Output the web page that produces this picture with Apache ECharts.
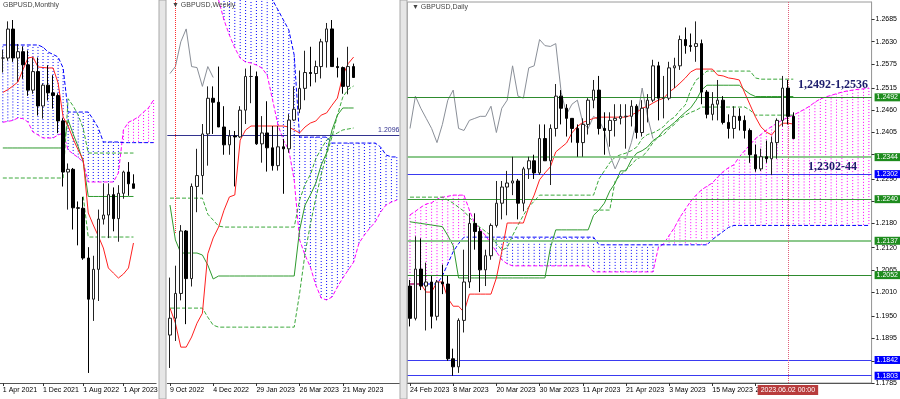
<!DOCTYPE html>
<html><head><meta charset="utf-8">
<script src="https://cdn.jsdelivr.net/npm/echarts/dist/echarts.min.js"></script>
<style>html,body{margin:0;padding:0;background:#fff}#c{width:900px;height:399px}</style>
</head><body><div id="c"></div>
<script>
// ---------------- MONTHLY (Apr 2021 ...) ----------------
const mTickCats = ['2021.04','2021.12','2022.08','2023.04'];
const mTickText = ['1 Apr 2021','1 Dec 2021','1 Aug 2022','1 Apr 2023'];
const mOpen  = [1.3830,1.3830,1.4150,1.3830,1.3900,1.3755,1.3475,1.3680,1.3300,1.3530,1.3445,1.3415,1.3135,1.2570,1.2600,1.2175,1.2170,1.1620,1.1165,1.1495,1.2050,1.2095,1.2320,1.2055,1.2335,1.2570,1.2440];
const mHigh  = [1.3920,1.4235,1.4250,1.3985,1.3958,1.3913,1.3834,1.3835,1.3550,1.3750,1.3640,1.3440,1.3165,1.2665,1.2615,1.2245,1.2295,1.1740,1.1645,1.2155,1.2445,1.2445,1.2400,1.2425,1.2585,1.2680,1.2545];
const mLow   = [1.3670,1.3800,1.3787,1.3570,1.3600,1.3412,1.3435,1.3195,1.3160,1.3360,1.3270,1.3000,1.2410,1.2155,1.1935,1.1760,1.1600,1.0350,1.0925,1.1145,1.1990,1.1840,1.1915,1.1800,1.2275,1.2308,1.2390];
const mClose = [1.3830,1.4150,1.3830,1.3900,1.3755,1.3475,1.3680,1.3300,1.3530,1.3445,1.3415,1.3135,1.2570,1.2600,1.2175,1.2170,1.1620,1.1165,1.1495,1.2050,1.2095,1.2320,1.2055,1.2335,1.2570,1.2440,1.2390];
const mTenkan = [1.3450,1.3480,1.3520,1.3565,1.3700,1.3830,1.3841,1.3731,1.3725,1.3720,1.3720,1.3554,1.3178,1.3078,1.2935,1.2814,1.2703,1.2117,1.1985,1.1863,1.1731,1.1510,1.1454,1.1399,1.1443,1.1510,1.1786];
const mKijun  = [1.2836,1.2836,1.2836,1.2836,1.2836,1.2836,1.2836,1.2836,1.2836,1.2836,1.2836,1.2836,1.2836,1.3145,1.2990,1.2850,1.2680,1.2300,1.2300,1.2300,1.2300,1.2300,1.2300,1.2300,1.2300,1.2300,1.2300];
const mLvl1   = [1.2504,1.2504,1.2504,1.2504,1.2504,1.2504,1.2504,1.2504,1.2504,1.2504,1.2504,1.2504,1.2504,1.3380,1.3300,1.3200,1.3050,1.2780,1.2780,1.2780,1.2780,1.2780,1.2780,1.2780,1.2780,1.2780,1.2780];
const mLvl2   = [null,null,null,null,null,null,null,null,null,null,null,null,null,null,null,null,1.2300,1.1852,1.1852,1.1852,1.1852,1.1852,1.1852,1.1852,1.1852,1.1852,1.1852];
const mSpanA  = [1.3120,1.3130,1.3140,1.3167,1.3160,1.3123,1.3012,1.2980,1.2946,1.2946,1.2946,1.2980,1.3000,1.2814,1.2770,1.2730,1.2681,1.2460,1.2460,1.2460,1.2460,1.2460,1.2460,1.2560,1.3036,1.3120,1.3147,1.3180,1.3233,1.3280,1.3366];
const mSpanB  = [1.3974,1.3974,1.3974,1.3974,1.3974,1.3974,1.3974,1.3974,1.3950,1.3896,1.3870,1.3841,1.3720,1.3233,1.3233,1.3233,1.3233,1.3233,1.3150,1.3057,1.2902,1.2902,1.2902,1.2902,1.2895,1.2895,1.2895,1.2895,1.2895,1.2895,1.2895];

// ---------------- WEEKLY (9 Oct 2022 ...) ----------------
const wTickCats = ['2022.10.09','2022.12.04','2023.01.29','2023.03.26','2023.05.21'];
const wTickText = ['9 Oct 2022','4 Dec 2022','29 Jan 2023','26 Mar 2023','21 May 2023'];
const wOpen  = [1.1090,1.1175,1.1300,1.1615,1.1375,1.1840,1.1895,1.2105,1.2285,1.2265,1.2140,1.2050,1.2095,1.2090,1.2225,1.2395,1.2395,1.2055,1.2110,1.2035,1.1945,1.2040,1.2030,1.2175,1.2230,1.2335,1.2415,1.2410,1.2445,1.2570,1.2635,1.2445,1.2440,1.2345,1.2445];
const wHigh  = [1.1380,1.1440,1.1645,1.1620,1.1855,1.2030,1.2155,1.2345,1.2345,1.2445,1.2245,1.2125,1.2120,1.2245,1.2435,1.2450,1.2420,1.2195,1.2270,1.2145,1.2145,1.2080,1.2205,1.2345,1.2425,1.2525,1.2545,1.2475,1.2585,1.2665,1.2680,1.2490,1.2445,1.2545,1.2460];
const wLow   = [1.0924,1.1060,1.1265,1.1145,1.1335,1.1710,1.1800,1.1945,1.2105,1.2140,1.2000,1.2000,1.1840,1.2085,1.2155,1.2260,1.2050,1.1960,1.1915,1.1920,1.1920,1.1803,1.2010,1.2170,1.2210,1.2275,1.2345,1.2365,1.2385,1.2440,1.2445,1.2390,1.2308,1.2305,1.2390];
const wClose = [1.1175,1.1300,1.1615,1.1375,1.1840,1.1895,1.2105,1.2285,1.2265,1.2140,1.2050,1.2095,1.2090,1.2225,1.2395,1.2395,1.2055,1.2110,1.2035,1.1945,1.2040,1.2030,1.2175,1.2230,1.2335,1.2415,1.2410,1.2445,1.2570,1.2635,1.2445,1.2440,1.2345,1.2445,1.2390];
const wTenkan = [1.1226,1.1150,1.1029,1.1029,1.1080,1.1150,1.1200,1.1500,1.1580,1.1635,1.1720,1.1787,1.1797,1.2074,1.2125,1.2145,1.2145,1.2145,1.2145,1.2145,1.2145,1.2145,1.2140,1.2125,1.2110,1.2140,1.2160,1.2170,1.2200,1.2211,1.2250,1.2286,1.2400,1.2460,1.2493];
const wKijun  = [1.1746,1.1570,1.1504,1.1504,1.1504,1.1504,1.1494,1.1443,1.1373,1.1388,1.1388,1.1388,1.1388,1.1388,1.1388,1.1388,1.1388,1.1388,1.1388,1.1388,1.1388,1.1388,1.1388,1.1388,1.1620,1.1746,1.1797,1.1857,1.1948,1.2009,1.2125,1.2200,1.2236,1.2236,1.2236];
const wLvl1   = [1.1781,1.1781,1.1781,1.1781,1.1781,1.1781,1.1781,1.1700,1.1670,1.1640,1.1635,1.1635,1.1635,1.1635,1.1635,1.1635,1.1635,1.1635,1.1635,1.1635,1.1635,1.1635,1.1635,1.1635,1.1771,1.1850,1.1900,1.1980,1.2030,1.2074,1.2095,1.2110,1.2125,1.2130,1.2135];
const wLvl2   = [1.1226,1.1226,1.1226,1.1226,1.1226,1.1226,1.1226,1.1180,1.1140,1.1130,1.1130,1.1130,1.1130,1.1130,1.1130,1.1130,1.1130,1.1130,1.1130,1.1130,1.1130,1.1130,1.1130,1.1130,1.1300,1.1500,1.1650,1.1780,1.1900,1.2000,1.2090,1.2200,1.2291,1.2330,1.2347];
const wChinkou = [1.2410,1.2445,1.2570,1.2635,1.2445,1.2440,1.2345,1.2445,1.2390];
const wSpanA = [1.4000,1.3800,1.3600,1.3500,1.3400,1.3300,1.3100,1.3000,1.2880,1.2781,1.2680,1.2604,1.2539,1.2488,1.2468,1.2463,1.2453,1.2438,1.2402,1.2276,1.2150,1.2074,1.2024,1.1872,1.1570,1.1494,1.1433,1.1342,1.1277,1.1267,1.1282,1.1332,1.1378,1.1418,1.1458,1.1554,1.1595,1.1630,1.1660,1.1711,1.1746,1.1761,1.1771];
const wSpanB = [1.3300,1.3300,1.3300,1.3300,1.3300,1.3300,1.3300,1.3300,1.3300,1.3300,1.3300,1.3300,1.3300,1.3300,1.3300,1.3300,1.3300,1.3300,1.2882,1.2781,1.2731,1.2680,1.2630,1.2503,1.2089,1.2089,1.2089,1.2089,1.2089,1.2089,1.2059,1.2059,1.2059,1.2059,1.2059,1.2059,1.2059,1.2059,1.2059,1.2039,1.1999,1.1989,1.1989];
const wLevel = 1.2096;

// ---------------- DAILY (24 Feb 2023 ...) ----------------
const dTickCats = ['2023.02.24','2023.03.08','2023.03.20','2023.03.30','2023.04.11','2023.04.21','2023.05.03','2023.05.15','2023.05.25'];
const dTickText = ['24 Feb 2023','8 Mar 2023','20 Mar 2023','30 Mar 2023','11 Apr 2023','21 Apr 2023','3 May 2023','15 May 2023','25 May 2023'];
const dPriceTicks = [1.1785,1.1840,1.1895,1.1950,1.2010,1.2065,1.2120,1.2180,1.2235,1.2290,1.2350,1.2405,1.2460,1.2515,1.2575,1.2630,1.2685];
const dPriceLabels = [1.1785,1.1895,1.1950,1.2010,1.2065,1.2120,1.2180,1.2290,1.2405,1.2460,1.2515,1.2575,1.2630,1.2685];
const dOpen  = [1.2025,1.1945,1.2067,1.2025,1.2035,1.1950,1.2035,1.2030,1.1845,1.1825,1.1940,1.2035,1.2180,1.2160,1.2065,1.2100,1.2175,1.2230,1.2270,1.2280,1.2285,1.2230,1.2315,1.2335,1.2305,1.2390,1.2335,1.2415,1.2495,1.2465,1.2440,1.2415,1.2380,1.2425,1.2485,1.2510,1.2415,1.2410,1.2435,1.2440,1.2445,1.2445,1.2470,1.2405,1.2465,1.2485,1.2570,1.2490,1.2490,1.2565,1.2570,1.2635,1.2620,1.2618,1.2625,1.2505,1.2450,1.2475,1.2485,1.2430,1.2415,1.2445,1.2435,1.2410,1.2350,1.2315,1.2345,1.2340,1.2380,1.2435,1.2515,1.2445];
const dHigh  = [1.2040,1.2148,1.2143,1.2083,1.2050,1.2040,1.2078,1.2050,1.1870,1.1945,1.2115,1.2205,1.2205,1.2170,1.2115,1.2180,1.2285,1.2285,1.2310,1.2345,1.2290,1.2320,1.2345,1.2350,1.2425,1.2425,1.2425,1.2525,1.2510,1.2475,1.2440,1.2425,1.2440,1.2490,1.2535,1.2545,1.2455,1.2455,1.2475,1.2475,1.2475,1.2485,1.2475,1.2485,1.2500,1.2585,1.2580,1.2545,1.2580,1.2590,1.2645,1.2665,1.2650,1.2680,1.2635,1.2510,1.2505,1.2535,1.2495,1.2450,1.2470,1.2465,1.2447,1.2415,1.2375,1.2365,1.2385,1.2395,1.2440,1.2545,1.2535,1.2455];
const dLow   = [1.1925,1.1940,1.2015,1.1915,1.1920,1.1940,1.2005,1.1840,1.1803,1.1810,1.1910,1.2020,1.2115,1.2010,1.2025,1.2090,1.2170,1.2190,1.2200,1.2250,1.2190,1.2210,1.2290,1.2290,1.2300,1.2335,1.2275,1.2395,1.2425,1.2395,1.2380,1.2345,1.2345,1.2400,1.2465,1.2400,1.2350,1.2370,1.2395,1.2425,1.2365,1.2420,1.2390,1.2395,1.2430,1.2480,1.2435,1.2440,1.2485,1.2515,1.2560,1.2600,1.2605,1.2580,1.2475,1.2440,1.2435,1.2435,1.2425,1.2390,1.2390,1.2410,1.2390,1.2330,1.2308,1.2310,1.2330,1.2300,1.2340,1.2420,1.2425,1.2390];
const dClose = [1.1945,1.2067,1.2025,1.2035,1.1950,1.2035,1.2030,1.1845,1.1825,1.1940,1.2035,1.2180,1.2160,1.2065,1.2100,1.2175,1.2230,1.2270,1.2280,1.2285,1.2230,1.2315,1.2335,1.2305,1.2390,1.2335,1.2415,1.2495,1.2465,1.2440,1.2415,1.2380,1.2425,1.2485,1.2510,1.2415,1.2410,1.2435,1.2440,1.2445,1.2445,1.2470,1.2405,1.2465,1.2485,1.2570,1.2490,1.2490,1.2565,1.2570,1.2635,1.2620,1.2618,1.2625,1.2505,1.2450,1.2475,1.2485,1.2430,1.2415,1.2445,1.2435,1.2410,1.2350,1.2315,1.2345,1.2340,1.2380,1.2435,1.2515,1.2445,1.2390];
const dTenkan = [1.2030,1.2030,1.2030,1.2010,1.2010,1.2035,1.2035,1.1995,1.1975,1.1975,1.1960,1.2005,1.2005,1.2005,1.2005,1.2005,1.2045,1.2110,1.2181,1.2181,1.2181,1.2181,1.2220,1.2250,1.2288,1.2305,1.2320,1.2357,1.2368,1.2379,1.2404,1.2420,1.2430,1.2435,1.2440,1.2443,1.2443,1.2443,1.2443,1.2443,1.2443,1.2448,1.2455,1.2465,1.2470,1.2478,1.2485,1.2490,1.2505,1.2515,1.2527,1.2540,1.2555,1.2562,1.2562,1.2562,1.2562,1.2547,1.2545,1.2540,1.2538,1.2535,1.2503,1.2473,1.2443,1.2419,1.2406,1.2399,1.2416,1.2428,1.2428,1.2426];
const dKijun  = [1.2184,1.2182,1.2180,1.2178,1.2176,1.2174,1.2172,1.2150,1.2125,1.2045,1.2045,1.2045,1.2045,1.2045,1.2045,1.2045,1.2045,1.2045,1.2045,1.2045,1.2045,1.2045,1.2045,1.2045,1.2045,1.2045,1.2119,1.2164,1.2164,1.2164,1.2164,1.2164,1.2164,1.2164,1.2200,1.2213,1.2230,1.2260,1.2280,1.2310,1.2310,1.2337,1.2354,1.2360,1.2369,1.2385,1.2394,1.2410,1.2419,1.2430,1.2443,1.2455,1.2466,1.2485,1.2510,1.2522,1.2522,1.2522,1.2522,1.2522,1.2522,1.2522,1.2510,1.2500,1.2494,1.2494,1.2494,1.2494,1.2494,1.2494,1.2494,1.2494];
const dLvl1   = [1.2245,1.2245,1.2245,1.2245,1.2245,1.2245,1.2245,1.2238,1.2230,1.2220,1.2210,1.2195,1.2180,1.2170,1.2160,1.2150,1.2130,1.2114,1.2120,1.2150,1.2176,1.2200,1.2221,1.2235,1.2250,1.2250,1.2250,1.2250,1.2250,1.2250,1.2250,1.2250,1.2250,1.2250,1.2250,1.2290,1.2310,1.2330,1.2344,1.2350,1.2354,1.2360,1.2369,1.2390,1.2400,1.2404,1.2411,1.2420,1.2435,1.2443,1.2460,1.2473,1.2510,1.2535,1.2545,1.2557,1.2557,1.2557,1.2557,1.2557,1.2557,1.2557,1.2557,1.2557,1.2540,1.2537,1.2537,1.2537,1.2537,1.2537,1.2537,1.2537];
const dLvl2   = [null,null,null,null,null,null,null,null,null,null,null,null,null,null,null,null,null,null,null,null,null,null,null,null,null,null,null,null,null,null,null,null,null,null,1.2213,1.2213,1.2213,1.2213,1.2285,1.2300,1.2313,1.2325,1.2340,1.2345,1.2360,1.2380,1.2394,1.2400,1.2415,1.2425,1.2440,1.2448,1.2455,1.2460,1.2468,1.2468,1.2468,1.2468,1.2468,1.2468,1.2468,1.2468,1.2468,1.2460,1.2448,1.2448,1.2448,1.2448,1.2448,1.2448,1.2448,1.2448];
const dChinkou = [1.2415,1.2495,1.2465,1.2440,1.2415,1.2380,1.2425,1.2485,1.2510,1.2415,1.2410,1.2435,1.2440,1.2445,1.2445,1.2470,1.2405,1.2465,1.2485,1.2570,1.2495,1.2490,1.2565,1.2570,1.2635,1.2620,1.2618,1.2625,1.2505,1.2450,1.2475,1.2485,1.2430,1.2415,1.2445,1.2435,1.2410,1.2350,1.2315,1.2345,1.2340,1.2380,1.2435,1.2515,1.2445,1.2390];
const dSpanA  = [1.2201,1.2210,1.2220,1.2228,1.2231,1.2240,1.2245,1.2247,1.2250,1.2250,1.2250,1.2213,1.2180,1.2165,1.2150,1.2130,1.2110,1.2090,1.2080,1.2075,1.2075,1.2075,1.2075,1.2075,1.2075,1.2075,1.2075,1.2075,1.2075,1.2075,1.2075,1.2075,1.2075,1.2075,1.2060,1.2060,1.2060,1.2060,1.2060,1.2060,1.2060,1.2060,1.2060,1.2060,1.2060,1.2060,1.2120,1.2130,1.2150,1.2170,1.2195,1.2215,1.2235,1.2250,1.2263,1.2272,1.2280,1.2295,1.2308,1.2318,1.2325,1.2345,1.2360,1.2375,1.2390,1.2400,1.2411,1.2420,1.2428,1.2436,1.2442,1.2448,1.2455,1.2462,1.2470,1.2480,1.2488,1.2493,1.2497,1.2501,1.2505,1.2508,1.2510,1.2512,1.2513,1.2515];
const dSpanB  = [1.2030,1.2030,1.2030,1.2030,1.2030,1.2030,1.2050,1.2080,1.2110,1.2130,1.2146,1.2146,1.2146,1.2146,1.2146,1.2146,1.2146,1.2146,1.2146,1.2146,1.2146,1.2146,1.2146,1.2146,1.2146,1.2146,1.2146,1.2146,1.2146,1.2146,1.2146,1.2146,1.2146,1.2146,1.2146,1.2127,1.2127,1.2127,1.2127,1.2127,1.2127,1.2127,1.2127,1.2127,1.2127,1.2127,1.2127,1.2127,1.2127,1.2127,1.2127,1.2127,1.2127,1.2127,1.2127,1.2127,1.2140,1.2150,1.2160,1.2170,1.2175,1.2175,1.2175,1.2175,1.2175,1.2175,1.2175,1.2175,1.2175,1.2175,1.2175,1.2175,1.2175,1.2175,1.2175,1.2175,1.2175,1.2175,1.2175,1.2175,1.2175,1.2175,1.2175,1.2175,1.2175,1.2175];
const dLevels = [
  {v:1.2492, line:'#2e8b2e', tag:'#1e8c1e', w:1},
  {v:1.2344, line:'#8cc88c', tag:'#1e8c1e', w:2},
  {v:1.2302, line:'#3a3af0', tag:'#0000ff', w:1},
  {v:1.2240, line:'#3a9a3a', tag:'#1e8c1e', w:1},
  {v:1.2137, line:'#8cc88c', tag:'#1e8c1e', w:2},
  {v:1.2052, line:'#2e8b2e', tag:'#1e8c1e', w:1},
  {v:1.1842, line:'#3a3af0', tag:'#0000ff', w:1},
  {v:1.1803, line:'#3a3af0', tag:'#0000ff', w:1}
];
const dBid = 1.2390;
const dCursorCat = '2023.06.02';
const dCursorText = '2023.06.02 00:00';

// ---------------- categories ----------------
function fmt(d){return d.getFullYear()+'.'+String(d.getMonth()+1).padStart(2,'0')+'.'+String(d.getDate()).padStart(2,'0');}
const mCats=[]; for(let k=0;k<31;k++){const d=new Date(2021,3+k,1); mCats.push(d.getFullYear()+'.'+String(d.getMonth()+1).padStart(2,'0'));}
const wCats=[]; for(let k=0;k<43;k++){wCats.push(fmt(new Date(2022,9,9+7*k)));}
const dCats=[]; {let d=new Date(2023,1,24); while(dCats.length<86){const g=d.getDay(); if(g!==0&&g!==6) dCats.push(fmt(d)); d=new Date(d.getFullYear(),d.getMonth(),d.getDate()+1);} }

function ohlc(O,H,L,C){return O.map((o,i)=>[o,C[i],L[i],H[i]]);}
function cloud(A,B){const r=[];for(let i=0;i<A.length;i++){if(A[i]!=null&&B[i]!=null)r.push([i,A[i],B[i]]);}return r;}

const FONT='Liberation Sans, Arial, sans-serif';
const PINK='#ff00ff', BLUE='#0000ff';
function cloudRender(params, api){
  const i=api.value(0), a=api.value(1), b=api.value(2);
  const p1=api.coord([i,a]), p2=api.coord([i,b]);
  return {type:'line', shape:{x1:p1[0],y1:p1[1],x2:p2[0],y2:p2[1]}, style:{stroke:a>=b?PINK:BLUE,lineWidth:1,lineDash:[1,2]}};
}
function xAxisCfg(gi,cats,tickCats,tickText){
  return {gridIndex:gi,type:'category',data:cats,boundaryGap:true,
    axisLine:{show:true,lineStyle:{color:'#555',width:1}},
    axisTick:{show:true,alignWithLabel:true,length:3,lineStyle:{color:'#333'},interval:(i,v)=>tickCats.includes(v)},
    axisLabel:{show:true,interval:(i,v)=>tickCats.includes(v),formatter:v=>tickText[tickCats.indexOf(v)]||'',align:'left',
      fontSize:7,fontFamily:FONT,color:'#000',margin:4},
    splitLine:{show:false}};
}
const candleStyle={color:'#ffffff',color0:'#000000',borderColor:'#222',borderColor0:'#000',borderWidth:1};
function lineS(x,y,data,color,type,width,z){
  return {type:'line',xAxisIndex:x,yAxisIndex:y,data:data,symbol:'none',silent:true,connectNulls:false,
    lineStyle:{color:color,type:type||'solid',width:width||1},z:z||3,animation:false};
}

const chart=echarts.init(document.getElementById('c'),null,{renderer:'canvas'});
const option={
  animation:false,
  backgroundColor:'#ffffff',
  grid:[
    {left:-11.3,top:0,width:31*5.4,height:383},
    {left:167.3,top:0,width:43*5.4,height:383},
    {left:407.3,top:2,width:86*5.4,height:381,show:true,borderColor:'#9a9a9a',borderWidth:1,backgroundColor:'transparent'}
  ],
  xAxis:[
    xAxisCfg(0,mCats,mTickCats,mTickText),
    xAxisCfg(1,wCats,wTickCats,wTickText),
    xAxisCfg(2,dCats,dTickCats,dTickText)
  ],
  yAxis:[
    {gridIndex:0,type:'value',min:1.0239,max:1.4471,show:false,splitLine:{show:false}},
    {gridIndex:1,type:'value',min:1.0848,max:1.2781,show:false,splitLine:{show:false}},
    {gridIndex:2,type:'value',min:1.1785,max:1.2728,position:'right',splitLine:{show:false},
      axisLine:{show:true,lineStyle:{color:'#9a9a9a'}},
      axisTick:{show:true,length:3,lineStyle:{color:'#333'},customValues:dPriceTicks},
      axisLabel:{show:true,customValues:dPriceLabels,formatter:v=>v.toFixed(4),fontSize:7,fontFamily:FONT,color:'#000',margin:4}}
  ],
  series:[
    {type:'custom',xAxisIndex:0,yAxisIndex:0,data:cloud(mSpanA,mSpanB),renderItem:cloudRender,clip:true,silent:true,z:1,encode:{x:0,y:[1,2]}},
    lineS(0,0,mSpanA,PINK,'dashed',1,2),
    lineS(0,0,mSpanB,BLUE,'dashed',1,2),
    lineS(0,0,mLvl1,'#3aa83a','dashed',1,3),
    lineS(0,0,mLvl2,'#3aa83a','dashed',1,3),
    lineS(0,0,mKijun,'#2e9a2e','solid',1,3),
    lineS(0,0,mTenkan,'#ff2020','solid',1,3),
    {type:'candlestick',xAxisIndex:0,yAxisIndex:0,data:ohlc(mOpen,mHigh,mLow,mClose),barWidth:3,itemStyle:candleStyle,z:5,silent:true},
    {type:'custom',xAxisIndex:1,yAxisIndex:1,data:cloud(wSpanA,wSpanB),renderItem:cloudRender,clip:true,silent:true,z:1,encode:{x:0,y:[1,2]}},
    lineS(1,1,wSpanA,PINK,'dashed',1,2),
    lineS(1,1,wSpanB,BLUE,'dashed',1,2),
    lineS(1,1,wLvl1,'#3aa83a','dashed',1,3),
    lineS(1,1,wLvl2,'#3aa83a','dashed',1,3),
    lineS(1,1,wKijun,'#2e9a2e','solid',1,3),
    lineS(1,1,wTenkan,'#ff2020','solid',1,3),
    lineS(1,1,wChinkou,'#8a8f98','solid',1,3),
    {type:'candlestick',xAxisIndex:1,yAxisIndex:1,data:ohlc(wOpen,wHigh,wLow,wClose),barWidth:3,itemStyle:candleStyle,z:5,silent:true,
      markLine:{silent:true,symbol:'none',animation:false,data:[
        {yAxis:wLevel,lineStyle:{color:'#33338f',type:'solid',width:1},label:{show:true,position:'insideEndTop',formatter:wLevel.toFixed(4),fontSize:7,fontFamily:FONT,color:'#33338f',distance:[0,1]}},
        [{xAxis:wCats[1],y:0,lineStyle:{color:'#ff3030',type:'dotted',width:1}},{xAxis:wCats[1],yAxis:1.1600}]
      ]}},
    {type:'custom',xAxisIndex:2,yAxisIndex:2,data:cloud(dSpanA,dSpanB),renderItem:cloudRender,clip:true,silent:true,z:1,encode:{x:0,y:[1,2]}},
    lineS(2,2,dSpanA,PINK,'dashed',1,2),
    lineS(2,2,dSpanB,BLUE,'dashed',1,2),
    lineS(2,2,dChinkou,'#8a8f98','solid',1,3),
    lineS(2,2,dLvl1,'#3aa83a','dashed',1,3),
    lineS(2,2,dLvl2,'#3aa83a','dashed',1,3),
    lineS(2,2,dKijun,'#2e9a2e','solid',1,3),
    lineS(2,2,dTenkan,'#ff2020','solid',1,3),
    {type:'candlestick',xAxisIndex:2,yAxisIndex:2,data:ohlc(dOpen,dHigh,dLow,dClose),barWidth:3,itemStyle:candleStyle,z:5,silent:true,
      markLine:{silent:true,symbol:'none',animation:false,precision:4,data:[
        ...dLevels.map(l=>({yAxis:l.v,lineStyle:{color:l.line,type:'solid',width:l.w},
          label:{show:true,position:'end',formatter:l.v.toFixed(4),fontSize:7,fontFamily:FONT,color:'#fff',backgroundColor:l.tag,padding:[1,2,0,2],distance:3}})),
        {yAxis:dBid,lineStyle:{color:'#000',opacity:0},label:{show:true,position:'end',formatter:dBid.toFixed(4),fontSize:7,fontFamily:FONT,color:'#fff',backgroundColor:'#000',padding:[1,2,0,2],distance:3}},
        {xAxis:dCursorCat,lineStyle:{color:'#e0607a',type:'dotted',width:1},
          label:{show:true,position:'start',formatter:dCursorText,fontSize:7,fontFamily:FONT,color:'#fff',backgroundColor:'#b83c3c',padding:[2,3,1,3],distance:2}}
      ]}}
  ],
  graphic:[
    {type:'rect',shape:{x:159,y:0,width:7,height:399},style:{fill:'#e6e6e6',stroke:'#a8a8a8',lineWidth:1},z:100},
    {type:'rect',shape:{x:400,y:0,width:7,height:399},style:{fill:'#e6e6e6',stroke:'#a8a8a8',lineWidth:1},z:100},
    {type:'text',left:3,top:2,style:{text:'GBPUSD,Monthly',font:'7px '+FONT,fill:'#444'},z:101},
    {type:'text',left:172,top:2,style:{text:'\u25BC GBPUSD,Weekly',font:'7px '+FONT,fill:'#444'},z:101},
    {type:'text',left:412,top:4,style:{text:'\u25BC GBPUSD,Daily',font:'7px '+FONT,fill:'#444'},z:101},
    {type:'text',left:798,top:79,style:{text:'1,2492-1,2536',font:'bold 12px Liberation Serif, Times New Roman, serif',fill:'#1c1c6c'},z:101},
    {type:'text',left:808,top:161,style:{text:'1,2302-44',font:'bold 12px Liberation Serif, Times New Roman, serif',fill:'#1c1c6c'},z:101}
  ]
};
chart.setOption(option);
</script></body></html>
